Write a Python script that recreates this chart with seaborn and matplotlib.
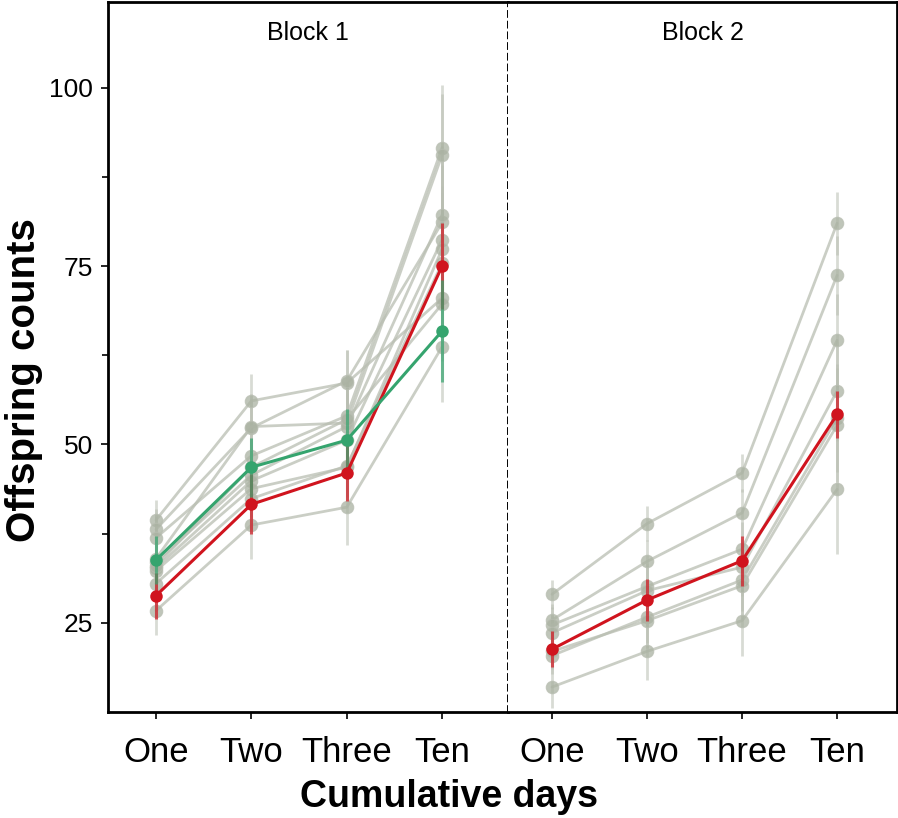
import numpy as np
import pandas as pd
import matplotlib
matplotlib.use('Agg')
import matplotlib.pyplot as plt
import seaborn as sns

# Categories
days = ['One', 'Two', 'Three', 'Ten']
blocks = ['Block 1', 'Block 2']

# Block 1: grey lines (one per line/genotype)
b1_grey = [
    [39.4, 56.1, 58.6, 70.5],
    [38.1, 52.3, 58.9, 81.1],
    [36.9, 48.4, 54.0, 91.6],
    [34.0, 52.5, 53.0, 90.6],
    [33.5, 45.7, 52.5, 82.2],
    [32.7, 44.9, 50.6, 78.7],
    [32.3, 43.8, 46.8, 77.4],
    [30.5, 42.4, 47.0, 75.4],
    [33.0, 46.8, 53.5, 69.7],
    [26.7, 38.7, 41.2, 63.7],
]
b1_grey_err = [
    [2.8, 3.7, 4.7, 8.8],
    [2.9, 4.0, 4.4, 8.0],
    [3.0, 4.2, 4.5, 8.8],
    [3.2, 4.5, 4.8, 8.5],
    [3.0, 4.0, 4.5, 8.0],
    [3.1, 4.2, 4.4, 7.5],
    [3.0, 4.0, 4.6, 7.8],
    [3.2, 4.3, 4.4, 7.0],
    [3.1, 4.1, 4.5, 7.2],
    [3.4, 4.8, 5.3, 7.7],
]
b1_red = [28.8, 41.6, 46.0, 75.0]
b1_red_err = [3.2, 4.2, 4.0, 6.0]
b1_green = [33.8, 46.8, 50.6, 65.9]
b1_green_err = [3.3, 4.1, 4.4, 7.2]

# Block 2
b2_grey = [
    [29.0, 38.9, 46.0, 81.0],
    [25.4, 33.6, 40.4, 73.7],
    [24.7, 30.1, 35.3, 64.6],
    [23.6, 29.5, 32.8, 57.5],
    [20.4, 25.8, 31.0, 53.7],
    [21.0, 25.3, 30.2, 52.7],
    [16.0, 21.0, 25.3, 43.7],
]
b2_grey_err = [
    [2.0, 2.4, 2.6, 4.4],
    [2.3, 3.0, 3.4, 5.5],
    [2.5, 3.3, 3.8, 6.5],
    [2.4, 3.5, 4.0, 7.0],
    [2.6, 3.6, 4.4, 7.5],
    [2.5, 3.8, 4.6, 8.0],
    [3.0, 4.0, 5.0, 9.0],
]
b2_red = [21.3, 28.2, 33.7, 54.2]
b2_red_err = [2.5, 3.0, 3.5, 3.3]

grey = '#b9beb2'
grey_dot = '#aab2a2'
red = '#d0141e'
green = '#35a46e'


def long_frame(lines, errs):
    rows = []
    for i, (vals, ee) in enumerate(zip(lines, errs)):
        for d, v, e in zip(days, vals, ee):
            rows.append({'line': i, 'day': d, 'count': v, 'err': e})
    return pd.DataFrame(rows)


sns.set_style('white', {'text.color': 'black', 'axes.labelcolor': 'black',
                        'xtick.color': 'black', 'ytick.color': 'black'})
plt.rcParams['font.family'] = ['Liberation Sans', 'DejaVu Sans']

fig = plt.figure(figsize=(8.98, 8.18), dpi=100)
ax1 = fig.add_axes([108 / 898, 1 - 712 / 818, 400 / 898, 710 / 818])
ax2 = fig.add_axes([508 / 898, 1 - 712 / 818, 389 / 898, 710 / 818], sharey=ax1)

panels = [
    (ax1, b1_grey, b1_grey_err, [(b1_red, b1_red_err, red), (b1_green, b1_green_err, green)], (-0.503, 3.69)),
    (ax2, b2_grey, b2_grey_err, [(b2_red, b2_red_err, red)], (-0.463, 3.63)),
]

for (ax, g_lines, g_errs, highlights, xl), title in zip(panels, blocks):
    gdf = long_frame(g_lines, g_errs)
    ax.errorbar(gdf['day'], gdf['count'], yerr=gdf['err'], fmt='none',
                ecolor=grey, elinewidth=2, alpha=0.55, zorder=1)
    sns.lineplot(data=gdf, x='day', y='count', units='line', estimator=None,
                 sort=False, color=grey, linewidth=2, alpha=0.75, marker='o',
                 markersize=9, markerfacecolor=grey_dot, markeredgecolor=grey,
                 markeredgewidth=0.8, ax=ax, zorder=2, legend=False)
    for vals, ee, col in highlights:
        hdf = pd.DataFrame({'day': days, 'count': vals, 'err': ee, 'line': 0})
        ax.errorbar(hdf['day'], hdf['count'], yerr=hdf['err'], fmt='none',
                    ecolor=col, elinewidth=2.2, alpha=0.7, zorder=3)
        sns.lineplot(data=hdf, x='day', y='count', sort=False, color=col,
                     linewidth=2.2, marker='o', markersize=9, markeredgewidth=0,
                     ax=ax, zorder=4, legend=False)
    ax.set_xlim(*xl)
    ax.text(0.5, 0.957, title, transform=ax.transAxes, ha='center', va='center',
            fontsize=18, color='black')
    ax.set_xlabel('')
    ax.set_ylabel('')
    ax.tick_params(axis='x', labelsize=25, length=5, width=1.2, pad=12,
                   bottom=True, color='black', labelcolor='black')
    for s in ['top', 'bottom', 'left', 'right']:
        ax.spines[s].set_color('black')
        ax.spines[s].set_linewidth(2)

ax1.set_ylim(12.5, 112)
ax1.set_yticks([25, 50, 75, 100])
ax1.set_yticks([37.5, 62.5, 87.5], minor=True)
ax1.tick_params(axis='y', which='major', labelsize=19, length=5, width=1.2,
                left=True, pad=6, color='black', labelcolor='black')
ax1.tick_params(axis='y', which='minor', length=4, width=1.2, left=True,
                color='black')
ax1.spines['right'].set_linestyle((0, (3, 2.5)))
ax1.spines['right'].set_linewidth(1.4)
ax2.spines['left'].set_visible(False)
ax2.tick_params(axis='y', which='both', left=False, labelleft=False)

fig.text(0.5, 1 - 797 / 818, 'Cumulative days', ha='center', va='center',
         fontsize=27, fontweight='bold', color='black')
fig.text(24 / 898, 1 - 380 / 818, 'Offspring counts', ha='center', va='center',
         rotation=90, fontsize=29, fontweight='bold', color='black')

fig.savefig('out.png', dpi=100)
